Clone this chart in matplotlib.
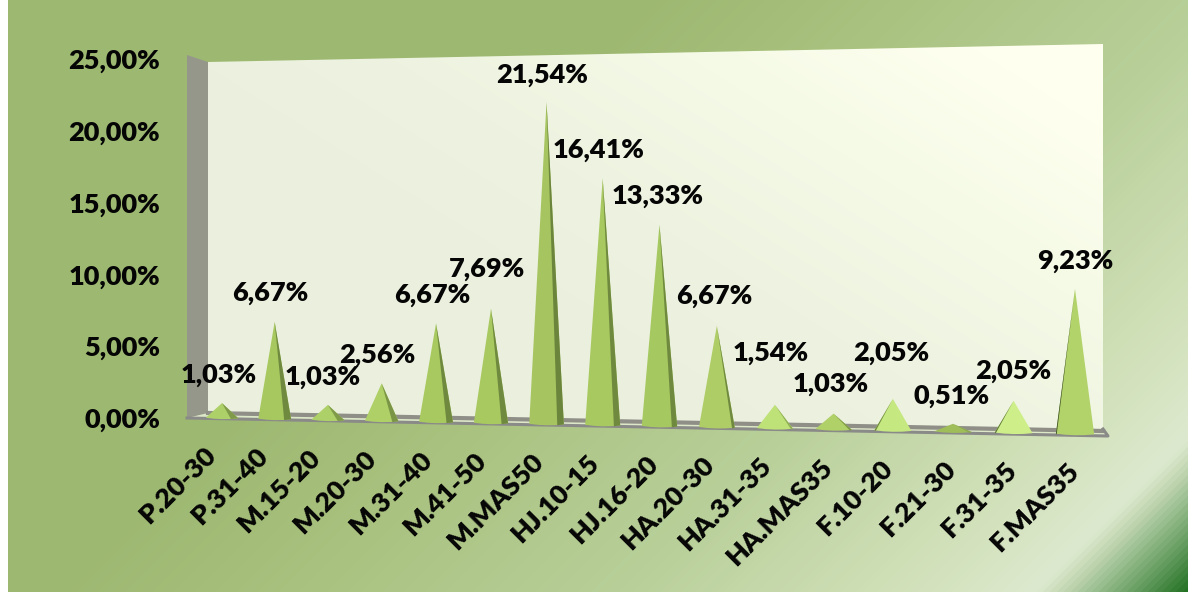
import matplotlib
matplotlib.use('Agg')
import matplotlib.pyplot as plt
import matplotlib.transforms as mtransforms
from matplotlib.colors import LinearSegmentedColormap
from matplotlib.patches import Polygon
import numpy as np

#Chart values
categories = ['P.20-30', 'P.31-40', 'M.15-20', 'M.20-30', 'M.31-40', 'M.41-50', 'M.MAS50', 'HJ.10-15',
              'HJ.16-20', 'HA.20-30', 'HA.31-35', 'HA.MAS35', 'F.10-20', 'F.21-30', 'F.31-35', 'F.MAS35']
values = [1.03, 6.67, 1.03, 2.56, 6.67, 7.69, 21.54, 16.41, 13.33, 6.67, 1.54, 1.03, 2.05, 0.51, 2.05, 9.23]
value_labels = ['1,03%', '6,67%', '1,03%', '2,56%', '6,67%', '7,69%', '21,54%', '16,41%',
                '13,33%', '6,67%', '1,54%', '1,03%', '2,05%', '0,51%', '2,05%', '9,23%']
y_ticks = [0, 5, 10, 15, 20, 25]
y_tick_labels = ['0,00%', '5,00%', '10,00%', '15,00%', '20,00%', '25,00%']

#Styles per cone
cone_colors = ['#add068', '#a6c85f', '#add068', '#aed066', '#a8c95f', '#a8c860', '#a6c560', '#a8c860',
               '#a6c860', '#aecd66', '#bfe278', '#b0d068', '#c5e880', '#9fbe5a', '#cdee88', '#b2d26a']
dark_colors = ['#7f9a48', '#6f8a3f', '#7f9a48', '#7a9545', '#6f8a3f', '#6f8a3f', '#6c853c', '#6f8a3f',
               '#6f8a3f', '#6f8a3f', '#8fae55', '#7f9a48', '#6f8a3f', '#8aa850', '#5f7838', '#3f5228']
dark_side = [1, 1, 1, 1, 1, 1, 1, 1, 1, 1, 1, 1, -1, 1, -1, -1]
dark_frac = [.45, .42, .4, .36, .38, .38, .38, .36, .3, .15, .1, .1, .06, .1, .05, .04]
#label offsets from the cone tip and the axis foot, pixels
label_dx = [-3, -4, -5, -4, -4, -4, -4, -4, -2, -3, -4, -3, -2, -1, 0, 0]
label_dy = [28, 29, 28, 28, 28, 40, 27, 28, 29, 30, 52, 30, 46, 28, 30, 28]
cat_dx = [-19, -19, -20, -18, -17, -17, -16, -16, -14, -15, -16, -14, -13, -10, -9, -9]

W, H = 1188, 592
FONT = 'Lato'
FONT_SIZE = 19.5
TEXT_COLOR = '#050505'
half_width = 0.31


#Perspective from (category index, value) to pixels
def homography(src, dst):
    A = []
    b = []
    for (x, y), (u, v) in zip(src, dst):
        A.append([x, y, 1, 0, 0, 0, -u*x, -u*y])
        A.append([0, 0, 0, x, y, 1, -v*x, -v*y])
        b += [u, v]
    return np.append(np.linalg.solve(np.array(A, float), np.array(b, float)), 1).reshape(3, 3)


class Projection(mtransforms.Transform):
    input_dims = 2
    output_dims = 2

    def __init__(self, matrix):
        super().__init__()
        self.matrix = matrix

    def transform_non_affine(self, values):
        pts = np.column_stack([values, np.ones(len(values))]) @ self.matrix.T
        return pts[:, :2] / pts[:, 2:]


fig = plt.figure(figsize=(W/100, H/100), dpi=100)
ax = fig.add_axes([0, 0, 1, 1])
ax.axis('off')

#Slide background
xx, yy = np.meshgrid(np.arange(W), np.arange(H))
bg_cmap = LinearSegmentedColormap.from_list('bg', [
    (0, '#9db871'), (.36, '#9db871'), (.5, '#a9c27f'), (.68, '#b8cf99'), (.85, '#d3e2bc'), (.915, '#dde9cf'),
    (.93, '#c5d8b5'), (.96, '#7fae78'), (1, '#247224')])
bg = ax.imshow((xx+yy)/(W+H), cmap=bg_cmap, vmin=0, vmax=1, extent=[0, W, H, 0], aspect='auto', zorder=0)
bg.set_clip_path(Polygon([[8, 0], [W, 0], [W, H], [8, H]], transform=ax.transData))

#Back wall
wall_cmap = LinearSegmentedColormap.from_list('wall', ['#eaf0dd', '#edf3e0', '#f4fae6', '#ffffef'])
wall = ax.imshow((xx-yy*1.6)/900, cmap=wall_cmap, vmin=0, vmax=1, extent=[0, W, H, 0], aspect='auto', zorder=1)
wall.set_clip_path(Polygon([[208, 62], [1103, 44], [1103, 432], [208, 414]], transform=ax.transData))
ax.set_xlim(0, W)
ax.set_ylim(H, 0)

#Side wall and floor
ax.add_patch(Polygon([[187, 55], [208, 62], [208, 414], [187, 418]], fc='#95978a', ec='none', zorder=2))
ax.add_patch(Polygon([[187, 418], [208, 413], [1103, 429], [1108, 436]], fc='#dde8c8', ec='none', zorder=2))
ax.plot([208, 1103], [413, 431], color='#8f8f88', lw=3, zorder=3)
ax.plot([187, 1108, 1103], [418, 436, 429], color='#8a8a88', lw=2.2, zorder=4)

#Cones
proj = Projection(homography([(0, 0), (15, 0), (0, 25), (15, 25)],
                             [(222, 418), (1075, 434), (222, 56), (1075, 41)])) + ax.transData
for i, v in enumerate(values):
    w = half_width
    drop = -0.06
    ax.fill([i-w, i, i+w, i+w*.5, i, i-w*.5], [0, v, 0, drop, drop*1.3, drop], color=cone_colors[i], lw=0,
            transform=proj, zorder=5)
    side = dark_side[i]
    edge = i+side*w
    inner = i+side*w*(1-dark_frac[i])
    ax.fill([i, edge, inner], [v, 0, drop], color=dark_colors[i], lw=0, transform=proj, zorder=6)

#Value labels
for i, v in enumerate(values):
    ax.annotate(value_labels[i], (i, v), xycoords=proj, xytext=(label_dx[i], label_dy[i]),
                textcoords='offset pixels', ha='center', va='center', fontsize=FONT_SIZE, fontweight='heavy',
                family=FONT, color=TEXT_COLOR, zorder=8)

#Category labels
for i, name in enumerate(categories):
    ax.annotate(name, (i, 0), xycoords=proj, xytext=(cat_dx[i], -25), textcoords='offset pixels',
                ha='right', va='top', rotation=45, rotation_mode='anchor', fontsize=FONT_SIZE,
                fontweight='heavy', family=FONT, color=TEXT_COLOR, zorder=8)

#Value axis, only its tick labels show
ax_y = fig.add_axes([160/W, 1-418/H, 1/W, (418-59)/H])
ax_y.set_ylim(0, 25)
ax_y.patch.set_alpha(0)
ax_y.set_xticks([])
ax_y.set_yticks(y_ticks)
ax_y.set_yticklabels(y_tick_labels, fontsize=FONT_SIZE, fontweight='heavy', family=FONT, color=TEXT_COLOR)
ax_y.tick_params(axis='y', length=0, pad=0)
for s in ax_y.spines.values():
    s.set_visible(False)

fig.savefig('out.png', dpi=100)
